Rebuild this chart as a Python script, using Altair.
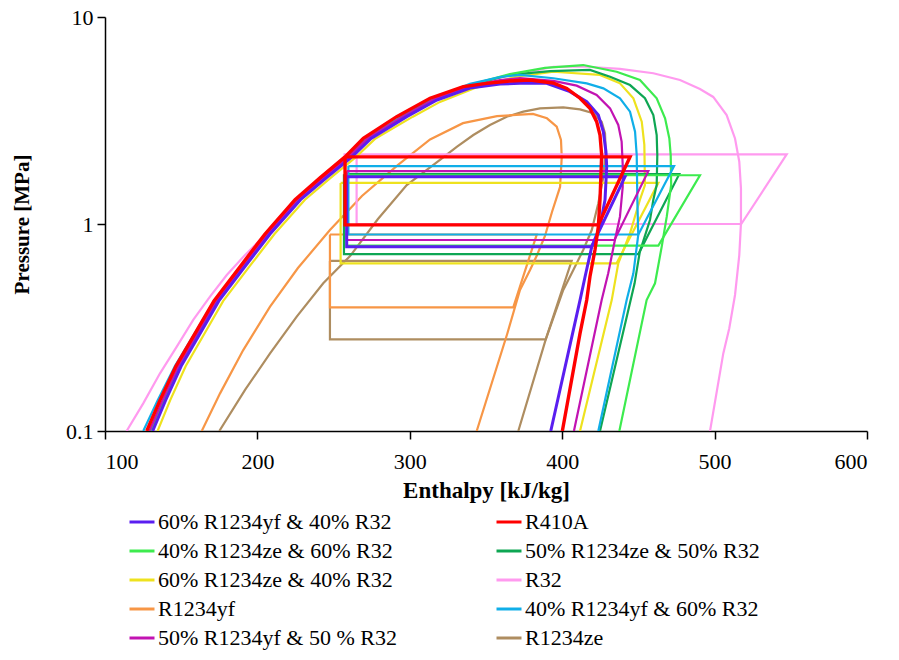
import altair as alt
import pandas as pd

names = ["60% R1234yf & 40% R32", "R410A", "40% R1234ze & 60% R32", "50% R1234ze & 50% R32",
         "60% R1234ze & 40% R32", "R32", "R1234yf", "40% R1234yf & 60% R32",
         "50% R1234yf & 50 % R32", "R1234ze"]
colors = ["#5A1EF0", "#FF0000", "#3DEB4E", "#0EA653", "#EEE21E", "#FF9AEF", "#F79646", "#10AEE8",
          "#C213B2", "#AE8D60"]
widths = [3.0, 3.4, 2.2, 2.2, 2.2, 2.2, 2.2, 2.2, 2.2, 2.2]
# legend is filled column by column: first column then second column
legend_order = ["60% R1234yf & 40% R32", "40% R1234ze & 60% R32", "60% R1234ze & 40% R32", "R1234yf",
                "50% R1234yf & 50 % R32", "R410A", "50% R1234ze & 50% R32", "R32",
                "40% R1234yf & 60% R32", "R1234ze"]
draw_order = ["R1234ze", "R1234yf", "R32", "60% R1234ze & 40% R32", "50% R1234ze & 50% R32",
              "40% R1234ze & 60% R32", "40% R1234yf & 60% R32", "50% R1234yf & 50 % R32",
              "60% R1234yf & 40% R32", "R410A"]

# saturation domes (enthalpy kJ/kg, pressure MPa)
liq_P = [0.1, 0.141, 0.206, 0.296, 0.425, 0.622, 0.895, 1.31, 1.67, 2.11, 2.59, 3.30]

r410a_h = [127.4, 136.1, 146.6, 159.1, 171.5, 188.6, 205.0, 224.7, 241.1, 257.5, 269.5, 291.4, 313.3, 335.1,
           350.5, 365.7, 378.9, 394.0, 403.0, 411.7, 418.2, 422.6, 424.8, 425.9, 424.8, 423.7, 421.5, 418.2,
           416.1, 411.7, 400.1]
r410a_P = [0.1, 0.141, 0.206, 0.296, 0.425, 0.622, 0.895, 1.31, 1.67, 2.11, 2.59, 3.30, 4.05, 4.61,
           4.78, 4.91, 4.96, 4.80, 4.52, 4.05, 3.62, 3.12, 2.69, 2.15, 1.31, 0.97, 0.749, 0.556,
           0.429, 0.296, 0.1]

r32_h = [114.2, 125.1, 136.1, 147.0, 157.9, 168.9, 179.9, 191.9, 207.0, 226.6, 242.4, 258.8, 270.6, 291.4,
         313.3, 335.1, 357.0, 378.9, 394.2, 416.1, 437.9, 459.8, 477.3, 490.4, 499.1, 507.9, 513.4, 516.2,
         517.3, 517.3, 516.2, 513.4, 509.6, 505.7, 497.0]
r32_P = [0.1, 0.136, 0.190, 0.255, 0.344, 0.446, 0.567, 0.708, 0.915, 1.335, 1.705, 2.154, 2.546, 3.18,
         3.90, 4.52, 5.06, 5.44, 5.75, 5.75, 5.61, 5.35, 4.96, 4.49, 4.11, 3.36, 2.59, 2.0,
         1.487, 1.008, 0.708, 0.454, 0.313, 0.237, 0.1]

r1234yf_h = [163.5, 175.5, 190.7, 208.3, 226.6, 247.6, 268.6, 292.3, 313.3, 334.9, 357.2, 380.8, 390.0, 396.4,
             399.2, 399.7, 398.6, 393.3, 388.7, 383.5, 378.9, 372.3, 364.0, 343.9]
r1234yf_P = [0.1, 0.152, 0.246, 0.399, 0.613, 0.935, 1.366, 1.93, 2.56, 3.07, 3.32, 3.40, 3.24, 2.95,
             2.55, 2.11, 1.51, 1.143, 0.875, 0.708, 0.60, 0.48, 0.296, 0.1]

r1234ze_h = [175.0, 191.9, 208.3, 225.8, 243.2, 260.8, 279.1, 298.0, 319.8, 330.8, 341.7, 352.6, 363.6, 374.5,
             385.4, 400.7, 411.7, 420.4, 425.9, 428.1, 428.5, 427.0, 423.7, 419.4, 413.8, 407.3, 400.7, 389.2,
             371.2]
r1234ze_P = [0.1, 0.158, 0.237, 0.357, 0.517, 0.70, 1.057, 1.543, 2.04, 2.36, 2.69, 3.01, 3.30, 3.49,
             3.62, 3.66, 3.58, 3.43, 3.12, 2.74, 2.28, 1.69, 1.26, 0.935, 0.749, 0.60, 0.48, 0.277,
             0.1]

yf60_h = [131.3, 139.8, 150.0, 162.4, 174.7, 191.8, 208.3, 228.3, 245.2, 262.0, 274.6, 298.0, 317.8, 339.5,
          359.2, 372.3, 389.8, 405.1, 416.1, 423.7, 427.0, 428.7, 429.2, 428.1, 424.8, 419.4, 415.0, 411.7,
          392.5]
yf60_P = liq_P + [3.97, 4.54, 4.75, 4.78, 4.78, 4.36, 3.90, 3.36, 2.79, 2.24, 1.89, 1.31, 0.97, 0.777,
                  0.556, 0.429, 0.1]

yf40_h = [125.1, 134.6, 145.9, 158.9, 171.8, 189.3, 206.0, 226.0, 242.6, 259.3, 271.8, 294.5, 315.9, 339.5,
          359.2, 372.3, 394.2, 416.1, 427.0, 437.9, 444.5, 447.8, 448.9, 449.3, 449.9, 446.7, 442.3, 423.7]
yf40_P = liq_P + [4.05, 4.75, 5.13, 5.25, 5.06, 4.78, 4.52, 4.05, 3.49, 2.79, 2.15, 1.31, 0.885, 0.578,
                  0.429, 0.1]

yf50_h = [129.2, 137.8, 148.2, 160.6, 173.0, 190.2, 206.7, 226.6, 243.3, 260.0, 272.5, 295.5, 316.5, 339.5,
          359.2, 372.3, 394.2, 409.5, 422.6, 431.4, 436.8, 439.0, 439.7, 439.7, 437.9, 434.6, 430.2, 425.9,
          407.7]
yf50_P = liq_P + [4.02, 4.64, 4.96, 5.07, 4.91, 4.66, 4.20, 3.62, 3.01, 2.50, 1.93, 1.51, 1.085, 0.837,
                  0.578, 0.429, 0.1]

ze40_h = [130.2, 138.5, 148.8, 161.1, 173.4, 190.5, 206.9, 226.8, 243.5, 260.3, 272.8, 296.0, 317.2, 339.5,
          365.7, 388.7, 413.8, 435.7, 451.0, 462.0, 467.5, 470.3, 471.2, 471.5, 468.6, 465.3, 460.9, 455.4,
          437.5]
ze40_P = liq_P + [4.02, 4.70, 5.30, 5.68, 5.86, 5.44, 4.96, 4.05, 3.24, 2.59, 2.15, 1.543, 1.085, 0.777,
                  0.517, 0.429, 0.1]

ze50_h = [129.5, 138.2, 148.7, 161.2, 173.6, 190.8, 207.3, 227.3, 244.1, 261.0, 273.6, 297.0, 317.2, 339.5,
          365.7, 392.0, 418.2, 431.4, 444.5, 454.3, 459.8, 462.0, 462.4, 462.0, 459.8, 457.6, 450.9, 447.5,
          424.8]
ze50_P = liq_P + [4.00, 4.69, 5.25, 5.48, 5.55, 5.15, 4.69, 4.05, 3.36, 2.69, 2.15, 1.543, 1.31, 1.045,
                  0.732, 0.517, 0.1]

ze60_h = [134.5, 142.8, 153.0, 165.3, 177.6, 194.7, 211.2, 231.2, 248.0, 264.8, 277.5, 302.0, 319.8, 342.8,
          369.0, 394.2, 424.8, 437.9, 446.7, 452.2, 453.9, 454.3, 451.0, 444.5, 436.8, 432.5, 411.7]
ze60_P = liq_P + [3.89, 4.54, 5.13, 5.44, 5.25, 4.78, 4.05, 3.12, 2.41, 1.543, 1.31, 0.902, 0.646, 0.429,
                  0.1]

dome_h = [yf60_h, r410a_h, ze40_h, ze50_h, ze60_h, r32_h, r1234yf_h, yf40_h, yf50_h, r1234ze_h]
dome_P = [yf60_P, r410a_P, ze40_P, ze50_P, ze60_P, r32_P, r1234yf_P, yf40_P, yf50_P, r1234ze_P]

# refrigeration cycles, same order as names
cyc_h3 = [258.6, 257.5, 258.6, 256.8, 254.6, 265.1, 247.6, 259.7, 258.6, 247.6]
cyc_h3_top = [258.6, 257.5, 258.6, 256.8, 254.6, 256.5, 247.6, 259.7, 258.6, 247.6]
cyc_pc = [1.69, 2.11, 1.72, 1.74, 1.58, 2.17, 0.89, 1.905, 1.80, 0.663]
cyc_pe = [0.777, 0.99, 0.786, 0.716, 0.646, 1.0, 0.396, 0.89, 0.837, 0.277]
cyc_h1 = [419.3, 423.7, 463.1, 450.0, 435.7, 517.5, 367.9, 450.0, 434.3, 389.2]
cyc_h2 = [441.2, 444.5, 490.4, 476.8, 463.1, 547.3, 383.3, 473.4, 456.5, 406.2]

rows = []
for k, name in enumerate(names):
    for i, (h, p) in enumerate(zip(dome_h[k], dome_P[k])):
        rows.append({"series": name, "part": "dome", "i": i, "h": h, "P": p})
    pts = [(cyc_h3_top[k], cyc_pc[k]), (cyc_h2[k], cyc_pc[k]), (cyc_h1[k], cyc_pe[k]),
           (cyc_h3[k], cyc_pe[k]), (cyc_h3[k], cyc_pc[k])]
    for i, (h, p) in enumerate(pts):
        rows.append({"series": name, "part": "cycle", "i": i, "h": h, "P": p})
df = pd.DataFrame(rows)

FONT = "Liberation Serif"
legend_colors = [colors[names.index(n)] for n in legend_order]

x_enc = alt.X("h:Q", scale=alt.Scale(domain=[100, 600], nice=False, zero=False),
              axis=alt.Axis(values=[100, 200, 300, 400, 500, 600], title="Enthalpy [kJ/kg]", grid=False,
                            tickSize=8, labelPadding=12, titlePadding=7, titleFontSize=23,
                            labelFont=FONT, labelFontSize=22))
y_enc = alt.Y("P:Q", scale=alt.Scale(type="log", domain=[0.1, 10], nice=False),
              axis=alt.Axis(values=[0.1, 1, 10], format="~g", title="Pressure [MPa]", grid=False,
                            tickSize=8, labelPadding=4, titlePadding=33, titleFontSize=21,
                            labelFont=FONT, labelFontSize=22))
c_enc = alt.Color("series:N", scale=alt.Scale(domain=legend_order, range=legend_colors),
                  legend=alt.Legend(orient="none", legendX=23, legendY=491, columns=2, title=None,
                                    symbolType="stroke", symbolSize=625, symbolStrokeWidth=3,
                                    labelFont=FONT, labelFontSize=22, labelColor="black", labelLimit=600,
                                    labelOffset=2, rowPadding=4, columnPadding=93, padding=0))

layers = []
for name in draw_order:
    k = names.index(name)
    layers.append(
        alt.Chart(df).transform_filter(alt.datum.series == name)
        .mark_line(strokeWidth=widths[k], clip=True)
        .encode(x=x_enc, y=y_enc, color=c_enc, detail="part:N", order="i:Q")
    )

chart = alt.layer(*layers).properties(
    width=762, height=414,
    background="white",
    autosize=alt.AutoSizeParams(type="none"),
    padding={"left": 97, "top": 9, "right": 24, "bottom": 221},
).configure_view(stroke=None).configure_axis(
    domainColor="black", domainWidth=1.5, tickColor="black", tickWidth=1.5,
    labelFont=FONT, labelFontSize=22, labelColor="black",
    titleFont=FONT, titleFontWeight="bold", titleColor="black",
)

chart.save("out.html", embed_options={"renderer": "svg", "actions": False})
